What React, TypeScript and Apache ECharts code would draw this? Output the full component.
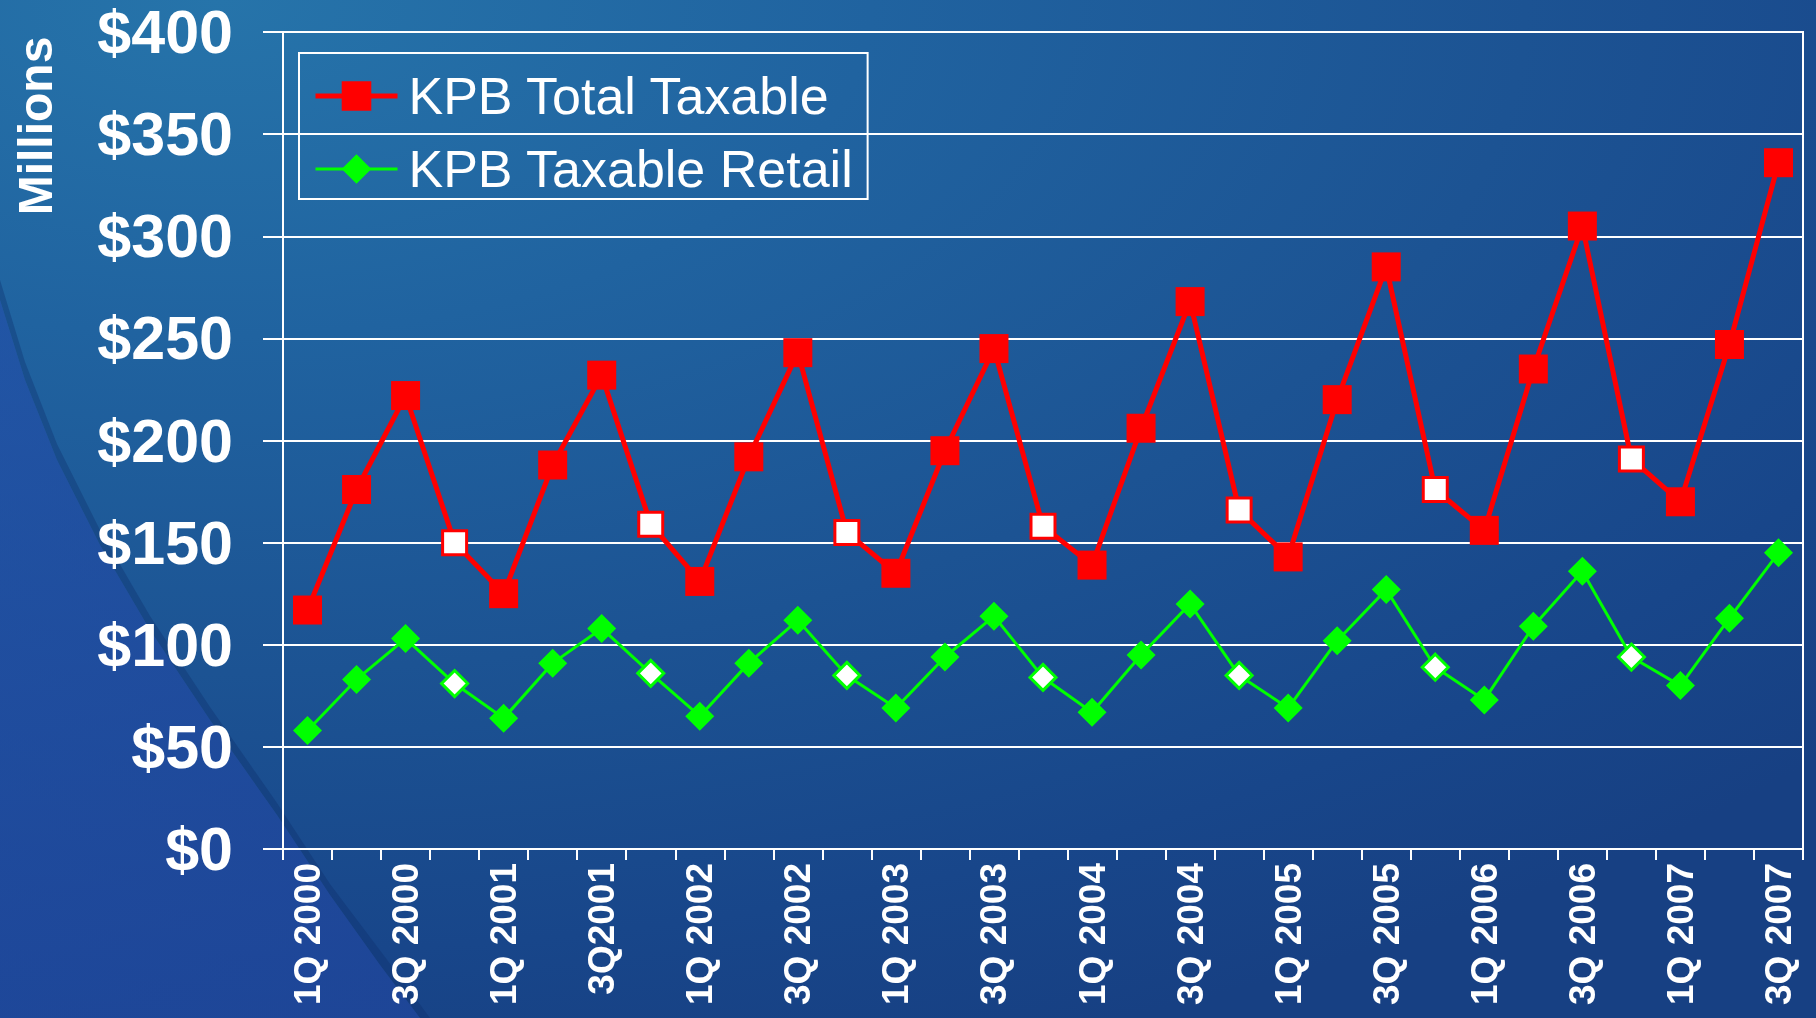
import React, { useEffect, useRef } from 'react';
import * as echarts from 'echarts';

const categories = [
  '1Q 2000', '2Q 2000', '3Q 2000', '4Q 2000',
  '1Q 2001', '2Q 2001', '3Q2001', '4Q 2001',
  '1Q 2002', '2Q 2002', '3Q 2002', '4Q 2002',
  '1Q 2003', '2Q 2003', '3Q 2003', '4Q 2003',
  '1Q 2004', '2Q 2004', '3Q 2004', '4Q 2004',
  '1Q 2005', '2Q 2005', '3Q 2005', '4Q 2005',
  '1Q 2006', '2Q 2006', '3Q 2006', '4Q 2006',
  '1Q 2007', '2Q 2007', '3Q 2007',
];

const totalTaxable = [
  117, 176, 222, 150, 125, 188, 232, 159, 131, 192, 243, 155, 135, 195, 245, 158,
  139, 206, 268, 166, 143, 220, 285, 176, 156, 235, 305, 191, 170, 247, 336,
];

const taxableRetail = [
  58, 83, 103, 81, 64, 91, 108, 86, 65, 91, 112, 85, 69, 94, 114, 84,
  67, 95, 120, 85, 69, 102, 127, 89, 73, 109, 136, 94, 80, 113, 145,
];

const seriesNames = ['KPB Total Taxable', 'KPB Taxable Retail'];
const yMin = 0;
const yMax = 400;
const yStep = 50;

const FONT = '"Liberation Sans", Arial, Helvetica, sans-serif';

export default function App() {
  const ref = useRef<HTMLDivElement>(null);

  useEffect(() => {
    document.body.style.margin = '0';
    const chart = echarts.init(ref.current as HTMLDivElement, null, { renderer: 'svg' });

    const isHollow = (c: string) => c.startsWith('4Q');
    const build = (vals: number[], color: string, hollowSize: number) =>
      vals.map((v, i) =>
        isHollow(categories[i])
          ? {
              value: v,
              symbolSize: hollowSize,
              itemStyle: { color: '#ffffff', borderColor: color, borderWidth: 3 },
            }
          : v
      );

    const wedge = [
      [0, 300], [25, 380], [57, 460], [100, 545], [150, 630], [210, 720],
      [277, 815], [330, 895], [380, 965], [420, 1018], [0, 1018],
    ];
    const shadow = [
      [0, 280], [25, 362], [57, 444], [100, 530], [150, 616], [210, 707],
      [277, 803], [330, 884], [385, 957], [430, 1018], [420, 1018],
      [380, 965], [330, 895], [277, 815], [210, 720], [150, 630], [100, 545],
      [57, 460], [25, 380], [0, 300],
    ];

    chart.setOption({
      animation: false,
      graphic: [
        {
          type: 'polygon',
          z: -11,
          silent: true,
          shape: { points: shadow },
          style: { fill: 'rgba(14,45,105,0.35)' },
        },
        {
          type: 'polygon',
          z: -10,
          silent: true,
          shape: { points: wedge },
          style: {
            fill: new echarts.graphic.LinearGradient(0, 0, 1, 1, [
              { offset: 0, color: 'rgba(34,76,168,0.6)' },
              { offset: 1, color: 'rgba(32,70,156,0.75)' },
            ]),
          },
        },
        {
          type: 'text',
          x: 35,
          y: 126,
          rotation: Math.PI / 2,
          silent: true,
          style: {
            text: 'Millions',
            fill: '#ffffff',
            font: `bold 48px ${FONT}`,
            textAlign: 'center',
            textVerticalAlign: 'middle',
          },
        },
      ],
      grid: {
        left: 283,
        right: 13,
        top: 32,
        bottom: 169,
        show: true,
        borderColor: '#ffffff',
        borderWidth: 2,
        backgroundColor: 'transparent',
      },
      legend: {
        orient: 'vertical',
        left: 299,
        top: 53,
        padding: [17, 14, 4, 14],
        itemGap: 21,
        itemWidth: 82,
        itemHeight: 37,
        borderColor: '#ffffff',
        borderWidth: 2,
        textStyle: {
          color: '#ffffff',
          fontSize: 52,
          fontFamily: FONT,
          lineHeight: 52,
          padding: [0, 0, 0, 6],
        },
        data: [
          { name: seriesNames[0], lineStyle: { width: 5 } },
          { name: seriesNames[1], lineStyle: { width: 3 } },
        ],
      },
      xAxis: {
        type: 'category',
        data: categories,
        boundaryGap: true,
        axisLine: { show: true, lineStyle: { color: '#ffffff', width: 2 } },
        axisTick: {
          show: true,
          interval: 0,
          length: 11,
          alignWithLabel: false,
          lineStyle: { color: '#ffffff', width: 2 },
        },
        axisLabel: {
          interval: 1,
          rotate: 90,
          margin: 14,
          color: '#ffffff',
          fontSize: 37,
          fontWeight: 'bold',
          fontFamily: FONT,
        },
        splitLine: { show: false },
      },
      yAxis: {
        type: 'value',
        min: yMin,
        max: yMax,
        interval: yStep,
        axisLine: { show: true, lineStyle: { color: '#ffffff', width: 2 } },
        axisTick: { show: true, length: 20, lineStyle: { color: '#ffffff', width: 2 } },
        axisLabel: {
          margin: 50,
          color: '#ffffff',
          fontSize: 61,
          fontWeight: 'bold',
          fontFamily: FONT,
          formatter: (v: number) => '$' + v,
        },
        splitLine: { show: true, lineStyle: { color: '#ffffff', width: 2 } },
      },
      series: [
        {
          name: seriesNames[0],
          type: 'line',
          data: build(totalTaxable, '#ff0000', 24),
          symbol: 'rect',
          symbolSize: 29,
          color: '#ff0000',
          itemStyle: { color: '#ff0000' },
          lineStyle: { color: '#ff0000', width: 5 },
          z: 3,
        },
        {
          name: seriesNames[1],
          type: 'line',
          data: build(taxableRetail, '#00ff00', 26),
          symbol: 'diamond',
          symbolSize: 29,
          color: '#00ff00',
          itemStyle: { color: '#00ff00' },
          lineStyle: { color: '#00ff00', width: 3 },
          z: 3,
        },
      ],
    });

    return () => chart.dispose();
  }, []);

  return (
    <div
      ref={ref}
      style={{
        position: 'fixed',
        left: 0,
        top: 0,
        width: 1816,
        height: 1018,
        background:
          'radial-gradient(ellipse 120% 110% at 12% 0%, #2674aa 0%, #2063a0 30%, #1c5393 60%, #18468a 85%, #174083 100%)',
      }}
    />
  );
}
